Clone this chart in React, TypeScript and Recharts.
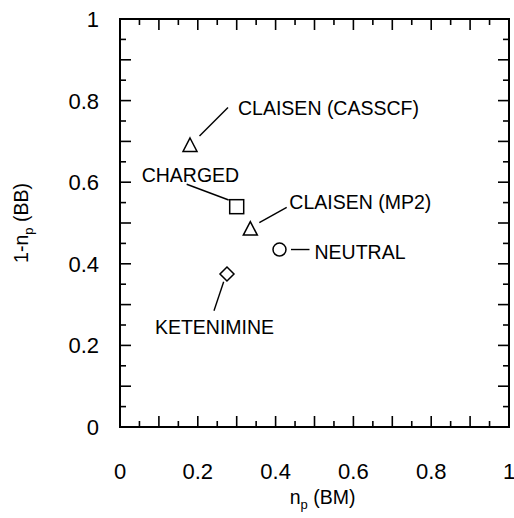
import React from 'react';
import { ScatterChart, Scatter, XAxis, YAxis } from 'recharts';

// compounds, Pauling bond order of bond-making (BM) and 1 - bond order of bond-breaking (BB)
const NAMES = ['CLAISEN (CASSCF)', 'CHARGED', 'CLAISEN (MP2)', 'NEUTRAL', 'KETENIMINE'];
const BM = [0.18, 0.3, 0.335, 0.41, 0.275];
const BB = [0.69, 0.54, 0.485, 0.435, 0.375];
const MARKERS = ['triangle', 'square', 'triangle', 'circle', 'diamond'];

const TICKS = [0, 0.05, 0.1, 0.15, 0.2, 0.25, 0.3, 0.35, 0.4, 0.45, 0.5, 0.55, 0.6, 0.65, 0.7, 0.75, 0.8, 0.85, 0.9, 0.95, 1];
const LABELED = ['0', '0.2', '0.4', '0.6', '0.8', '1'];

// annotation placement relative to the marker, in px
const LAYOUT: Record<string, { tx: number; ty: number; anchor: string; line: number[] }> = {
  'CLAISEN (CASSCF)': { tx: 48, ty: -30.5, anchor: 'start', line: [9.5, -9.5, 38, -38] },
  CHARGED: { tx: 2.5, ty: -25, anchor: 'end', line: [-50, -22.4, -8, -6.7] },
  'CLAISEN (MP2)': { tx: 39, ty: -20, anchor: 'start', line: [9, -6.4, 36.4, -21.8] },
  NEUTRAL: { tx: 35, ty: 9, anchor: 'start', line: [11.5, 0, 30, 0] },
  KETENIMINE: { tx: -12.5, ty: 60, anchor: 'middle', line: [-3.3, 7.7, -13, 36.7] },
};

const FONT = '"Liberation Sans", Arial, Helvetica, sans-serif';

const points = NAMES.map((name, i) => ({ name, bm: BM[i], bb: BB[i], marker: MARKERS[i] }));

function fmt(v: number) {
  return LABELED.find((l) => Math.abs(parseFloat(l) - v) < 1e-6);
}

function Tick(props: any) {
  const { x, y, payload, side } = props;
  const v = payload.value;
  const k = Math.round(v * 20);
  const len = k % 2 === 0 ? 11 : 6;
  const edge = k === 0 || k === 20;
  let x2 = x, y2 = y;
  if (side === 'bottom') y2 = y - len;
  if (side === 'top') y2 = y + len;
  if (side === 'left') x2 = x + len;
  if (side === 'right') x2 = x - len;
  const label = side === 'bottom' || side === 'left' ? fmt(v) : undefined;
  return (
    <g>
      {!edge && <line x1={x} y1={y} x2={x2} y2={y2} stroke="#000" strokeWidth={1.6} />}
      {label && side === 'bottom' && (
        <text x={x} y={y + 52} textAnchor="middle" fontSize={22} fontFamily={FONT} fill="#000">{label}</text>
      )}
      {label && side === 'left' && (
        <text x={x - 21} y={y + 8} textAnchor="end" fontSize={22} fontFamily={FONT} fill="#000">{label}</text>
      )}
    </g>
  );
}

function Marker(props: any) {
  const { cx, cy } = props;
  const p = props.payload ?? props;
  const lay = LAYOUT[p.name];
  const st = { fill: '#fff', stroke: '#000', strokeWidth: 1.5 };
  let mark = null;
  if (p.marker === 'triangle') {
    mark = <path d={`M${cx},${cy - 7.5}L${cx + 7},${cy + 6}L${cx - 7},${cy + 6}Z`} {...st} />;
  } else if (p.marker === 'square') {
    mark = <rect x={cx - 7} y={cy - 7} width={14} height={14} {...st} />;
  } else if (p.marker === 'circle') {
    mark = <circle cx={cx} cy={cy} r={6.5} {...st} />;
  } else {
    mark = <path d={`M${cx},${cy - 7}L${cx + 7},${cy}L${cx},${cy + 7}L${cx - 7},${cy}Z`} {...st} />;
  }
  return (
    <g>
      <line x1={cx + lay.line[0]} y1={cy + lay.line[1]} x2={cx + lay.line[2]} y2={cy + lay.line[3]} stroke="#000" strokeWidth={1.4} />
      {mark}
      <text x={cx + lay.tx} y={cy + lay.ty} textAnchor={lay.anchor as any} fontSize={19.5} fontFamily={FONT} fill="#000">
        {p.name}
      </text>
    </g>
  );
}

const axisLine = { stroke: '#000', strokeWidth: 2, strokeLinecap: 'square' as const };

export default function App() {
  return (
    <div style={{ position: 'absolute', left: 0, top: 0, background: '#fff' }}>
      <ScatterChart width={514} height={518} margin={{ top: 18, right: 4, bottom: 31, left: 20 }}>
        <XAxis
          xAxisId="b"
          dataKey="bm"
          type="number"
          domain={[0, 1]}
          ticks={TICKS}
          interval={0}
          height={60}
          tickSize={0}
          tickMargin={0}
          axisLine={axisLine}
          tickLine={false}
          tick={(p: any) => <Tick {...p} side="bottom" />}
          label={(p: any) => {
            const vb = p.viewBox;
            return (
              <text x={vb.x + vb.width / 2 + 8} y={504} textAnchor="middle" fontSize={19.5} fontFamily={FONT} fill="#000">
                n<tspan dy={5} fontSize={13}>p</tspan>
                <tspan dy={-5}> (BM)</tspan>
              </text>
            );
          }}
        />
        <XAxis
          xAxisId="t"
          dataKey="bm"
          orientation="top"
          type="number"
          domain={[0, 1]}
          ticks={TICKS}
          interval={0}
          height={1}
          tickSize={0}
          tickMargin={0}
          axisLine={axisLine}
          tickLine={false}
          tick={(p: any) => <Tick {...p} side="top" />}
        />
        <YAxis
          yAxisId="l"
          dataKey="bb"
          type="number"
          domain={[0, 1]}
          ticks={TICKS}
          interval={0}
          width={100}
          tickSize={0}
          tickMargin={0}
          axisLine={axisLine}
          tickLine={false}
          tick={(p: any) => <Tick {...p} side="left" />}
          label={(p: any) => {
            const vb = p.viewBox;
            const cx = 28;
            const cy = vb.y + vb.height / 2;
            return (
              <text x={cx} y={cy} transform={`rotate(-90 ${cx} ${cy})`} textAnchor="middle" fontSize={19.5} fontFamily={FONT} fill="#000">
                1-n<tspan dy={5} fontSize={13}>p</tspan>
                <tspan dy={-5}> (BB)</tspan>
              </text>
            );
          }}
        />
        <YAxis
          yAxisId="r"
          dataKey="bb"
          orientation="right"
          type="number"
          domain={[0, 1]}
          ticks={TICKS}
          interval={0}
          width={1}
          tickSize={0}
          tickMargin={0}
          axisLine={axisLine}
          tickLine={false}
          tick={(p: any) => <Tick {...p} side="right" />}
        />
        <Scatter xAxisId="b" yAxisId="l" data={points} shape={(p: any) => <Marker {...p} />} isAnimationActive={false} />
        <Scatter xAxisId="t" yAxisId="r" data={points} shape={() => <g />} isAnimationActive={false} />
      </ScatterChart>
    </div>
  );
}
